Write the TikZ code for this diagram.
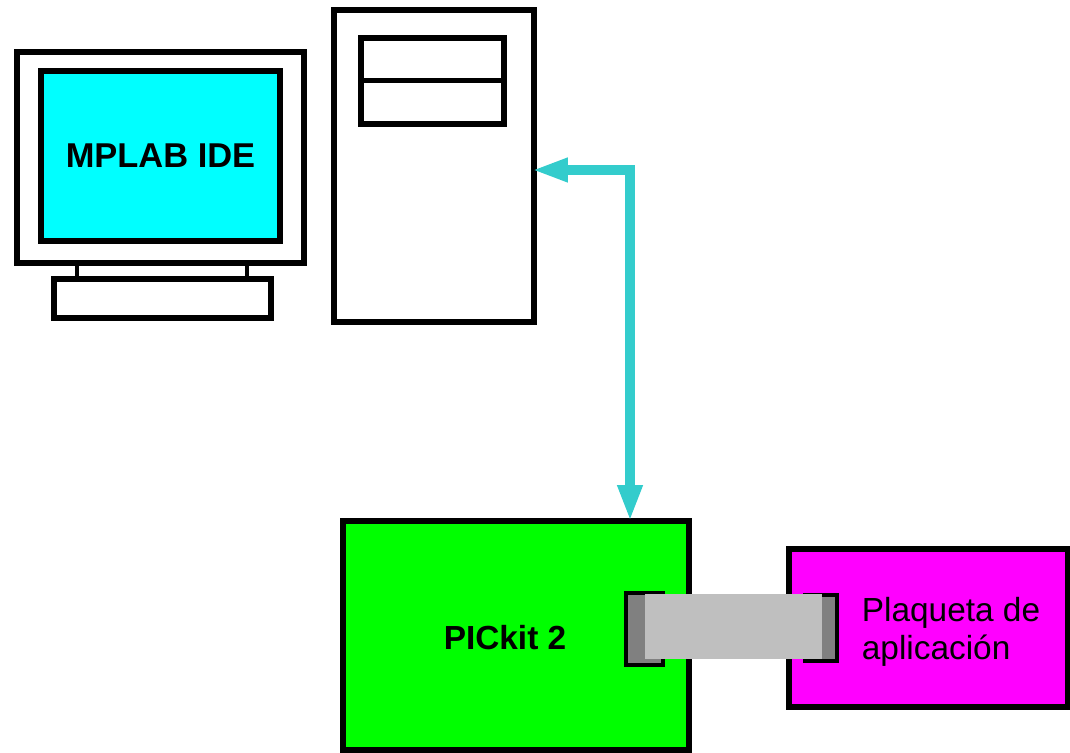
\documentclass[tikz,border=0pt]{standalone}
\usepackage{fontspec}
\setmainfont{Liberation Sans}
\usepackage{xcolor}
\usetikzlibrary{arrows.meta}

\definecolor{screencyan}{HTML}{00FFFF}
\definecolor{kitgreen}{HTML}{00FF00}
\definecolor{boardmagenta}{HTML}{FF00FF}
\definecolor{linkcyan}{HTML}{33CCCC}
\definecolor{ribbongray}{HTML}{BFBFBF}
\definecolor{jackgray}{HTML}{808080}

\begin{document}
\begin{tikzpicture}[
    box/.style={draw=black, line width=0.11cm, inner sep=0pt},
    link/.style={linkcyan, line width=0.2cm, line join=miter, {Triangle[length=0.72cm, width=0.44cm]}-{Triangle[length=0.72cm, width=0.46cm]}},
    label/.style={font=\fontsize{19pt}{21.6pt}\selectfont}
  ]
  \useasboundingbox (0, 0) rectangle (21.4, 15.04);

  % Monitor
  \node[box, line width=0.09cm, minimum width=3.4cm, minimum height=0.34cm] (neck) at (3.24, 9.63) {};
  \node[box, minimum width=5.74cm, minimum height=4.22cm] (monitor) at (3.21, 11.89) {};
  \node[box, fill=screencyan, minimum width=4.78cm, minimum height=3.4cm, font=\bfseries\fontsize{19.6pt}{21.6pt}\selectfont] (screen) at (3.21, 11.92) {MPLAB IDE};
  \node[box, minimum width=4.34cm, minimum height=0.78cm] (keyboard) at (3.25, 9.07) {};

  % Tower
  \node[box, minimum width=4cm, minimum height=6.24cm] (tower) at (8.68, 11.72) {};
  \node[box, minimum width=2.86cm, minimum height=1.72cm] (drive) at (8.65, 13.42) {};
  \draw[line width=0.1cm] (drive.west) -- (drive.east);

  % PICkit
  \node[box, fill=kitgreen, minimum width=6.92cm, minimum height=4.58cm] (pickit) at (10.32, 2.33) {};
  \node[font=\bfseries\fontsize{19pt}{21.6pt}\selectfont] (kitname) at (10.1, 2.28) {PICkit 2};

  % Application board
  \node[box, fill=boardmagenta, minimum width=5.58cm, minimum height=3.16cm] (board) at (18.57, 2.48) {};
  \node[label, align=left] (boardname) at (19.02, 2.4) {Plaqueta de\\aplicación};

  % Ribbon cable
  \node[box, line width=0.08cm, fill=jackgray, minimum width=0.74cm, minimum height=1.44cm] (kitjack) at (12.88, 2.47) {};
  \node[box, line width=0.08cm, fill=jackgray, minimum width=0.64cm, minimum height=1.32cm] (boardjack) at (16.41, 2.48) {};
  \node[fill=ribbongray, inner sep=0pt, minimum width=3.54cm, minimum height=1.3cm] (ribbon) at (14.67, 2.51) {};

  % USB link
  \coordinate (pcport) at ([xshift=-0.1cm, yshift=-0.08cm]tower.east);
  \coordinate (kitport) at ([xshift=2.28cm, yshift=-0.06cm]pickit.north);
  \draw[link] (pcport) -| (kitport);
\end{tikzpicture}
\end{document}
